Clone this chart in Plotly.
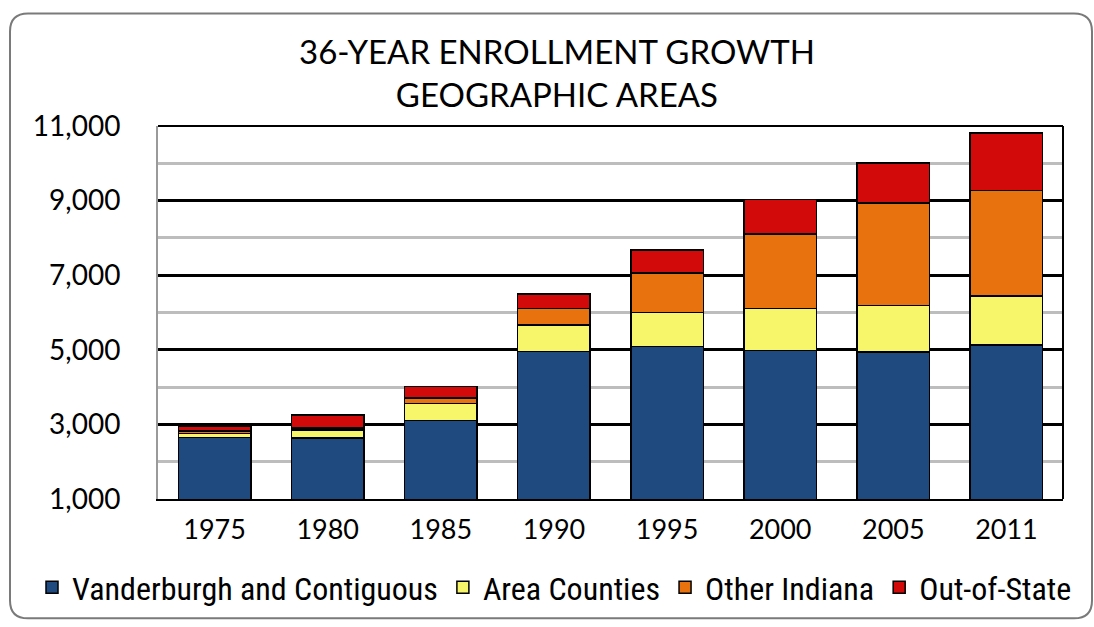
import plotly.graph_objects as go

years = ["1975", "1980", "1985", "1990", "1995", "2000", "2005", "2011"]
vanderburgh = [2650, 2630, 3100, 4950, 5090, 4980, 4940, 5130]
area_counties = [110, 220, 460, 710, 915, 1130, 1245, 1315]
other_indiana = [60, 60, 150, 450, 1050, 2000, 2755, 2820]
out_of_state = [135, 340, 310, 380, 615, 915, 1065, 1550]

series = [
    ("Vanderburgh and Contiguous", vanderburgh, "#1F4A80"),
    ("Area Counties", area_counties, "#F7F56A"),
    ("Other Indiana", other_indiana, "#E8730E"),
    ("Out-of-State", out_of_state, "#D30A0A"),
]

W, H = 1094, 627
L, R, T, B = 158, 1063, 126, 501


def px(x):
    return (x - L) / (R - L)


def py(y):
    return (B - y) / (B - T)


fig = go.Figure()
for name, vals, color in series:
    fig.add_trace(go.Bar(
        x=years, y=vals, name=name,
        marker=dict(color=color, line=dict(color="black", width=1.5)),
    ))

FONT = "Lato, 'Open Sans', sans-serif"

fig.update_layout(
    barmode="stack",
    bargap=0.36,
    width=W, height=H,
    margin=dict(l=L, r=W - R, t=T, b=H - B),
    paper_bgcolor="white",
    plot_bgcolor="white",
    showlegend=True,
    legend=dict(
        orientation="h",
        x=px(32), xanchor="left",
        y=py(590), yanchor="middle",
        font=dict(family="'Liberation Sans Narrow', 'Roboto Condensed', Roboto, sans-serif", size=32, color="black"),
        traceorder="normal",
        bgcolor="rgba(0,0,0,0)",
        itemwidth=30,
    ),
    font=dict(family=FONT, color="black"),
    yaxis=dict(
        range=[1000, 11000],
        tick0=1000, dtick=2000,
        tickformat=",d",
        showgrid=True, gridcolor="black", gridwidth=2.5,
        minor=dict(dtick=1000, tick0=0, showgrid=True, gridcolor="#BDBDBD", gridwidth=2.5),
        showline=True, linecolor="#9a9a9a", linewidth=2,
        ticks="", ticklabelstandoff=30,
        tickfont=dict(size=28, family=FONT),
        zeroline=False,
    ),
    xaxis=dict(
        showline=True, linecolor="black", linewidth=2,
        ticks="", ticklabelstandoff=6,
        tickfont=dict(size=27, family=FONT),
    ),
    annotations=[
        dict(text="36-YEAR ENROLLMENT GROWTH<br>GEOGRAPHIC AREAS",
             x=px(557), y=py(72), xref="paper", yref="paper",
             xanchor="center", yanchor="middle", showarrow=False,
             font=dict(size=33, family=FONT, color="black")),
    ],
)

# plot area frame (top and right edges)
fig.add_shape(type="line", xref="paper", yref="paper", x0=0, x1=1, y0=1, y1=1,
              line=dict(color="black", width=2))
fig.add_shape(type="line", xref="paper", yref="paper", x0=1, x1=1, y0=0, y1=1,
              line=dict(color="black", width=2))

# rounded outer border of the chart
x0, x1, y0, y1, r = 10, 1092, 13, 621, 18
path = (
    f"M {px(x0 + r)},{py(y0)} L {px(x1 - r)},{py(y0)} "
    f"Q {px(x1)},{py(y0)} {px(x1)},{py(y0 + r)} "
    f"L {px(x1)},{py(y1 - r)} Q {px(x1)},{py(y1)} {px(x1 - r)},{py(y1)} "
    f"L {px(x0 + r)},{py(y1)} Q {px(x0)},{py(y1)} {px(x0)},{py(y1 - r)} "
    f"L {px(x0)},{py(y0 + r)} Q {px(x0)},{py(y0)} {px(x0 + r)},{py(y0)} Z"
)
fig.add_shape(type="path", xref="paper", yref="paper", path=path,
              line=dict(color="#7a7a7a", width=2), layer="below")

fig.write_html("out.html",
               config={"displayModeBar": False},
               post_script="document.body.style.margin='0';document.body.style.overflow='hidden';")
